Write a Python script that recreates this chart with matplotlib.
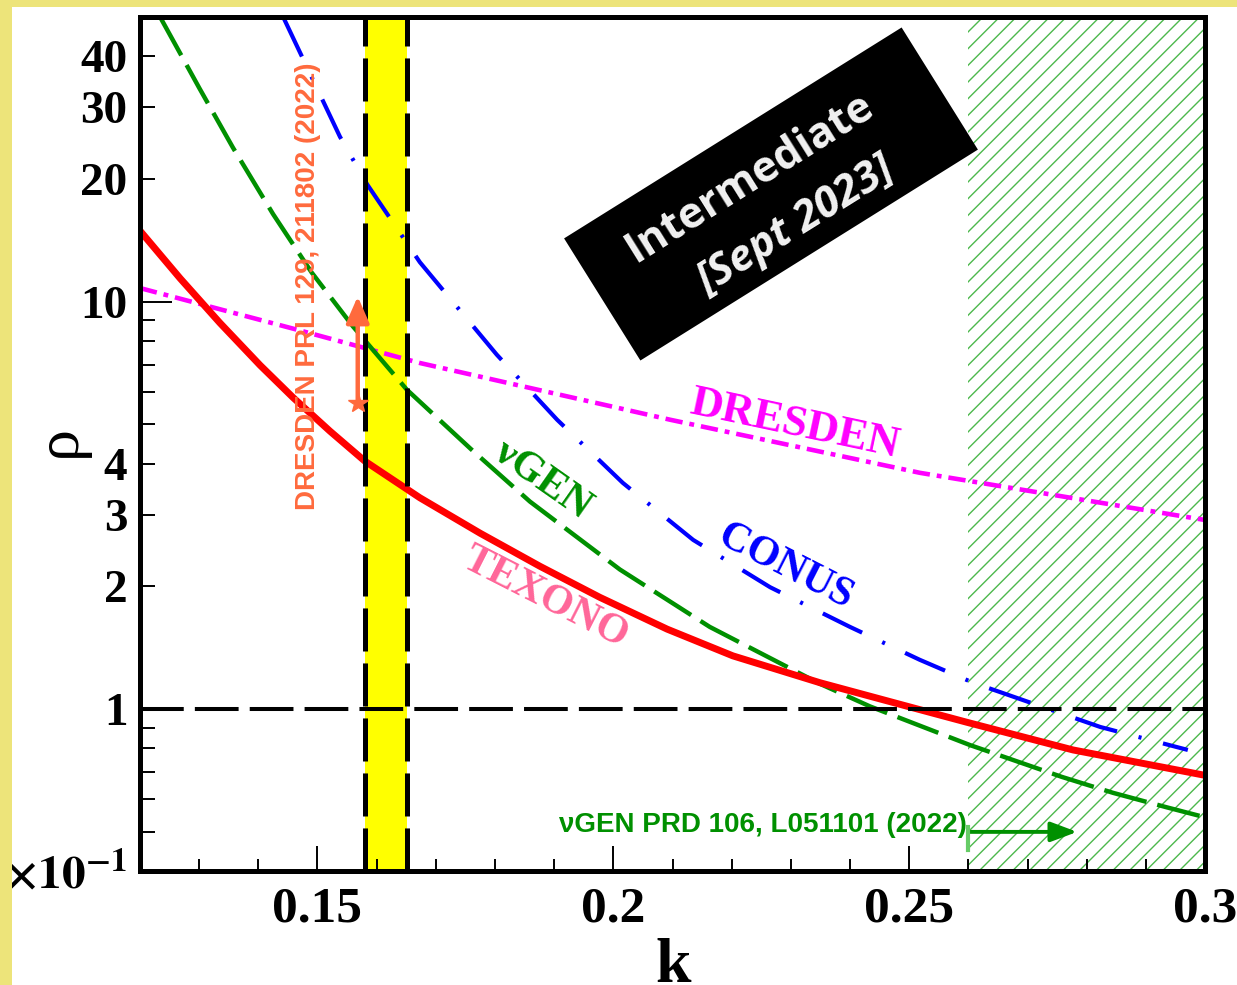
import numpy as np
import matplotlib
matplotlib.use("Agg")
import matplotlib.pyplot as plt
from matplotlib.patches import Rectangle
from matplotlib.transforms import IdentityTransform
from matplotlib.ticker import FixedLocator, FixedFormatter, MultipleLocator

plt.rcParams['lines.scale_dashes'] = False
plt.rcParams['hatch.linewidth'] = 1.0
plt.rcParams['mathtext.fontset'] = 'stix'
plt.rcParams['font.family'] = ['Liberation Serif', 'DejaVu Serif']
plt.rcParams['font.weight'] = 'bold'

# ---- curves (k, rho) ----
texono_k = [0.1200, 0.1268, 0.1335, 0.1403, 0.1459, 0.1521, 0.1580, 0.1673, 0.1775,
            0.1876, 0.1977, 0.2091, 0.2202, 0.2349, 0.2498, 0.2598, 0.2777, 0.3000]
texono_rho = [14.93, 11.40, 8.87, 6.98, 5.81, 4.81, 4.06, 3.30, 2.70,
              2.24, 1.88, 1.57, 1.35, 1.16, 1.014, 0.927, 0.793, 0.687]

vgen_k = [0.1234, 0.1300, 0.1357, 0.1425, 0.1490, 0.1560, 0.1651, 0.1759, 0.1859,
          0.2011, 0.2163, 0.2349, 0.2434, 0.2603, 0.2758, 0.2845, 0.2936, 0.3000]
vgen_rho = [50.0, 33.5, 23.9, 16.4, 11.8, 8.69, 6.08, 4.35, 3.23,
            2.20, 1.59, 1.153, 1.014, 0.815, 0.681, 0.622, 0.573, 0.542]

conus_k = [0.1442, 0.1538, 0.1584, 0.1673, 0.1803, 0.1905, 0.2016, 0.2135, 0.2265,
           0.2400, 0.2518, 0.2608, 0.2823, 0.2971]
conus_rho = [50.0, 25.4, 19.4, 12.5, 7.41, 5.13, 3.59, 2.60, 1.99,
             1.59, 1.32, 1.16, 0.903, 0.793]

dresden_k = [0.1200, 0.1470, 0.1673, 0.2096, 0.2518, 0.3000]
dresden_rho = [10.8, 8.5, 7.07, 5.13, 3.8, 2.91]

band_k = (0.158, 0.1652)       # yellow band between dashed lines
excluded_k = (0.26, 0.30)      # hatched region
dresden_arrow = (0.1568, 5.65, 10.3)   # k, star rho, arrow tip rho
vgen_arrow = (0.26, 0.2784, 0.499)     # k start, k end, rho
vgen_bar = (0.450, 0.513)

x_major = [0.15, 0.2, 0.25, 0.3]
x_major_labels = ["0.15", "0.2", "0.25", "0.3"]
y_major = [0.4, 1, 10]
y_major_labels = [r"$\mathbf{4{\times}10^{-1}}$", "1", "10"]
y_minor = [0.5, 0.6, 0.7, 0.8, 0.9, 2, 3, 4, 5, 6, 7, 8, 9, 20, 30, 40]
y_minor_labels = ["", "", "", "", "", "2", "3", "4", "", "", "", "", "", "20", "30", "40"]

W, H = 1237, 985
fig = plt.figure(figsize=(W / 100, H / 100), dpi=100)
fig.patch.set_facecolor("white")

ax = fig.add_axes([140 / W, 1 - 871 / H, (1205 - 140) / W, (871 - 17) / H])
ax.set_yscale("log")
ax.set_xlim(0.12, 0.30)
ax.set_ylim(0.4, 50)

orange = "#FF6A3D"
green = "#009000"

# ---- regions ----
ax.axvspan(band_k[0], band_k[1], color="yellow", lw=0, zorder=1)
ax.axvspan(excluded_k[0], excluded_k[1], facecolor="none", edgecolor="#4CB84C",
           hatch="//", lw=0, zorder=1)

# ---- curves ----
ax.plot(dresden_k, dresden_rho, color="#FF00FF", lw=3.3,
        dashes=(12.5, 5, 3.5, 5), zorder=3)
ax.plot(conus_k, conus_rho, color="blue", lw=3.0,
        dashes=(31.5, 16, 2.2, 16), zorder=3)
ax.plot(vgen_k, vgen_rho, color=green, lw=3.2, dashes=(31.5, 8), zorder=3)
ax.plot(texono_k, texono_rho, color="red", lw=5, solid_joinstyle="round", zorder=4)

# ---- reference lines ----
ax.axhline(1, color="black", lw=2.9, dashes=(31.5, 8), zorder=5)
for kk in band_k:
    ax.axvline(kk, color="black", lw=3.6, dashes=(31, 8.6), zorder=5)

# ---- DRESDEN arrow ----
ax.annotate("", xy=(dresden_arrow[0], dresden_arrow[2]),
            xytext=(dresden_arrow[0], dresden_arrow[1]),
            arrowprops=dict(arrowstyle="-|>,head_length=0.8,head_width=0.35",
                            color=orange, lw=3.2, shrinkA=0, shrinkB=0,
                            mutation_scale=20), zorder=6)
ax.plot([dresden_arrow[0]], [dresden_arrow[1]], marker="*", ms=15, color=orange, zorder=6)

# ---- vGEN arrow ----
ax.annotate("", xy=(vgen_arrow[1], vgen_arrow[2]), xytext=(vgen_arrow[0], vgen_arrow[2]),
            arrowprops=dict(arrowstyle="-|>,head_length=0.8,head_width=0.3",
                            color=green, lw=2.8, shrinkA=0, shrinkB=0,
                            mutation_scale=20), zorder=6)
ax.plot([vgen_arrow[0], vgen_arrow[0]], vgen_bar, color="#66CC66", lw=3, zorder=6)

# ---- labels on curves ----
ax.text(0.615, 0.523, "DRESDEN", transform=ax.transAxes, color="#FF00FF",
        fontsize=32, rotation=-12, ha="center", va="center", zorder=7)
ax.text(0.6056, 0.356, "CONUS", transform=ax.transAxes, color="blue",
        fontsize=30, rotation=-27, ha="center", va="center", zorder=7)
ax.text(0.3775, 0.458, "\u03bdGEN", transform=ax.transAxes, color=green,
        fontsize=30, rotation=-35, ha="center", va="center", zorder=7)
ax.text(0.381, 0.3197, "TEXONO", transform=ax.transAxes, color="#FF6699",
        fontsize=30, rotation=-27, ha="center", va="center", zorder=7)

ax.text(0.1577, 0.685, "DRESDEN PRL 129, 211802 (2022)", transform=ax.transAxes,
        color=orange, fontsize=20, rotation=90, ha="center", va="center",
        family=["Liberation Sans", "DejaVu Sans"], weight="bold", zorder=7)
ax.text(0.7765, 0.0539, "\u03bdGEN PRD 106, L051101 (2022)", transform=ax.transAxes,
        color=green, fontsize=20, ha="right", va="center",
        family=["Liberation Sans", "DejaVu Sans"], weight="bold", zorder=7)

# ---- ticks ----
ax.xaxis.set_major_locator(FixedLocator(x_major))
ax.xaxis.set_major_formatter(FixedFormatter(x_major_labels))
ax.xaxis.set_minor_locator(MultipleLocator(0.01))
ax.yaxis.set_major_locator(FixedLocator(y_major))
ax.yaxis.set_major_formatter(FixedFormatter(y_major_labels))
ax.yaxis.set_minor_locator(FixedLocator(y_minor))
ax.yaxis.set_minor_formatter(FixedFormatter(y_minor_labels))

ax.tick_params(axis="x", which="major", direction="in", length=18, width=1.4,
               labelsize=37, pad=11, top=False)
ax.tick_params(axis="x", which="minor", direction="in", length=9, width=1.4, top=False)
ax.tick_params(axis="y", which="major", direction="in", length=23, width=1.4,
               labelsize=34, pad=9, right=False)
ax.tick_params(axis="y", which="minor", direction="in", length=11, width=1.4,
               labelsize=34, pad=9, right=False)

for sp in ax.spines.values():
    sp.set_linewidth(3.6)
    sp.set_zorder(8)

# ---- axis titles ----
fig.text(673 / W, 3 / H, "k", fontsize=46, ha="center", va="baseline")
fig.text(60 / W, 1 - 441 / H, "\u03c1", fontsize=46, rotation=90,
         ha="center", va="center", weight="normal")

# ---- rotated "Intermediate" box ----
ident = IdentityTransform()
cx, cy = 771, H - 194
fig.add_artist(Rectangle((cx - 199, cy - 72), 398, 144, angle=32,
                         rotation_point="center", facecolor="black",
                         edgecolor="none", transform=ident, zorder=20))
fig.text(750, H - 178, "Intermediate", transform=ident, color="#F2F2F2",
         fontsize=31, rotation=32, rotation_mode="anchor", ha="center", va="center",
         family=["Open Sans", "DejaVu Sans"], weight="bold", zorder=21)
fig.text(796, H - 225, "[Sept 2023]", transform=ident, color="#F2F2F2",
         fontsize=31, rotation=32, rotation_mode="anchor", ha="center", va="center",
         family=["Open Sans", "DejaVu Sans"], weight="bold", style="italic", zorder=21)

# ---- yellow border strips ----
border = "#EDE47A"
fig.add_artist(Rectangle((0, 0), 12, H, transform=ident, facecolor=border,
                         edgecolor="none", zorder=30))
fig.add_artist(Rectangle((0, H - 7), W, 7, transform=ident, facecolor=border,
                         edgecolor="none", zorder=30))

fig.savefig("out.png", dpi=100)
